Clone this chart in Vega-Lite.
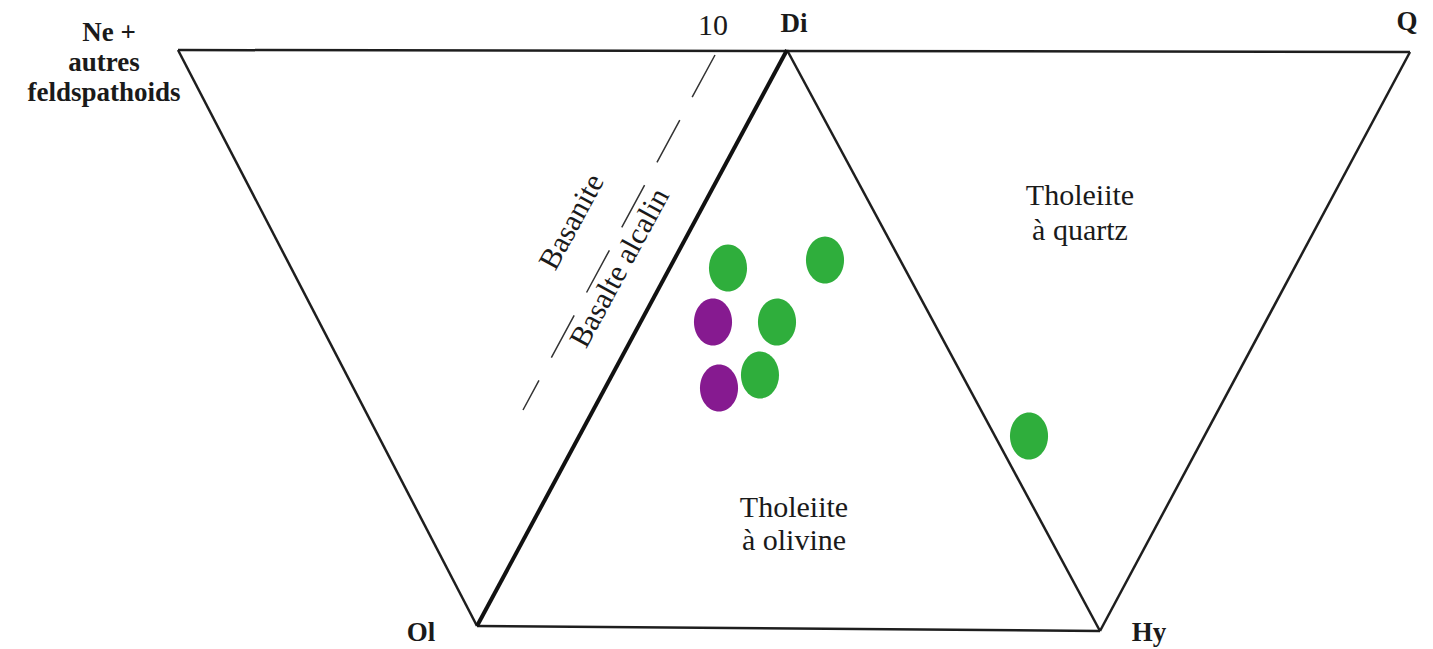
{
  "$schema": "https://vega.github.io/schema/vega-lite/v6.json",
  "width": 1433,
  "height": 649,
  "autosize": "none",
  "padding": 0,
  "background": "white",
  "config": {"view": {"stroke": null}},
  "datasets": {
    "frame": [
      {"x": 178, "y": 50, "x2": 1410, "y2": 52},
      {"x": 178, "y": 50, "x2": 477, "y2": 626},
      {"x": 477, "y": 626, "x2": 1100, "y2": 631},
      {"x": 787, "y": 50, "x2": 1100, "y2": 631},
      {"x": 1100, "y": 631, "x2": 1410, "y2": 52}
    ],
    "thick": [{"x": 477, "y": 626, "x2": 787, "y2": 50}],
    "dashed": [{"x": 715, "y": 55, "x2": 523, "y2": 410}],
    "points": [
      {"x": 728, "y": 268, "group": "vert"},
      {"x": 825, "y": 260, "group": "vert"},
      {"x": 713, "y": 322, "group": "violet"},
      {"x": 777, "y": 322, "group": "vert"},
      {"x": 760, "y": 375, "group": "vert"},
      {"x": 719, "y": 388, "group": "violet"},
      {"x": 1029, "y": 436, "group": "vert"}
    ],
    "vertexLabels": [
      {"x": 109, "y": 41, "label": "Ne +"},
      {"x": 104, "y": 71, "label": "autres"},
      {"x": 104, "y": 101, "label": "feldspathoids"},
      {"x": 794, "y": 32, "label": "Di"},
      {"x": 1407, "y": 30, "label": "Q"},
      {"x": 421, "y": 641, "label": "Ol"},
      {"x": 1149, "y": 641, "label": "Hy"}
    ],
    "plainLabels": [
      {"x": 713, "y": 35, "label": "10"},
      {"x": 794, "y": 517, "label": "Tholeiite"},
      {"x": 794, "y": 550, "label": "à olivine"},
      {"x": 1080, "y": 205, "label": "Tholeiite"},
      {"x": 1080, "y": 240, "label": "à quartz"}
    ],
    "rotLabels": [
      {"x": 572, "y": 222, "label": "Basanite"},
      {"x": 620, "y": 268, "label": "Basalte alcalin"}
    ]
  },
  "layer": [
    {
      "data": {"name": "frame"},
      "mark": {"type": "rule", "color": "#1e1e1e", "strokeWidth": 2.5},
      "encoding": {
        "x": {"field": "x", "type": "quantitative", "scale": {"domain": [0, 1433], "range": [0, 1433], "nice": false, "zero": false}, "axis": null},
        "y": {"field": "y", "type": "quantitative", "scale": {"domain": [0, 649], "range": [0, 649], "nice": false, "zero": false}, "axis": null},
        "x2": {"field": "x2"},
        "y2": {"field": "y2"}
      }
    },
    {
      "data": {"name": "thick"},
      "mark": {"type": "rule", "color": "#111111", "strokeWidth": 4},
      "encoding": {
        "x": {"field": "x", "type": "quantitative"},
        "y": {"field": "y", "type": "quantitative"},
        "x2": {"field": "x2"},
        "y2": {"field": "y2"}
      }
    },
    {
      "data": {"name": "dashed"},
      "mark": {"type": "rule", "color": "#333333", "strokeWidth": 1.5, "strokeDash": [48, 26]},
      "encoding": {
        "x": {"field": "x", "type": "quantitative"},
        "y": {"field": "y", "type": "quantitative"},
        "x2": {"field": "x2"},
        "y2": {"field": "y2"}
      }
    },
    {
      "data": {"name": "points"},
      "mark": {
        "type": "point",
        "filled": true,
        "opacity": 1,
        "size": 2209,
        "shape": "M 0 -1 C 0.447 -1 0.81 -0.552 0.81 0 C 0.81 0.552 0.447 1 0 1 C -0.447 1 -0.81 0.552 -0.81 0 C -0.81 -0.552 -0.447 -1 0 -1 Z"
      },
      "encoding": {
        "x": {"field": "x", "type": "quantitative"},
        "y": {"field": "y", "type": "quantitative"},
        "color": {"field": "group", "type": "nominal", "scale": {"domain": ["vert", "violet"], "range": ["#2fae3c", "#861a90"]}, "legend": null}
      }
    },
    {
      "data": {"name": "vertexLabels"},
      "mark": {"type": "text", "font": "Liberation Serif", "fontWeight": "bold", "fontSize": 27, "align": "center", "baseline": "alphabetic", "color": "#1a1a1a"},
      "encoding": {
        "x": {"field": "x", "type": "quantitative"},
        "y": {"field": "y", "type": "quantitative"},
        "text": {"field": "label"}
      }
    },
    {
      "data": {"name": "plainLabels"},
      "mark": {"type": "text", "font": "Liberation Serif", "fontSize": 30, "align": "center", "baseline": "alphabetic", "color": "#1a1a1a"},
      "encoding": {
        "x": {"field": "x", "type": "quantitative"},
        "y": {"field": "y", "type": "quantitative"},
        "text": {"field": "label"}
      }
    },
    {
      "data": {"name": "rotLabels"},
      "mark": {"type": "text", "font": "Liberation Serif", "fontSize": 30, "align": "center", "baseline": "middle", "angle": 298.5, "color": "#1a1a1a"},
      "encoding": {
        "x": {"field": "x", "type": "quantitative"},
        "y": {"field": "y", "type": "quantitative"},
        "text": {"field": "label"}
      }
    }
  ]
}
